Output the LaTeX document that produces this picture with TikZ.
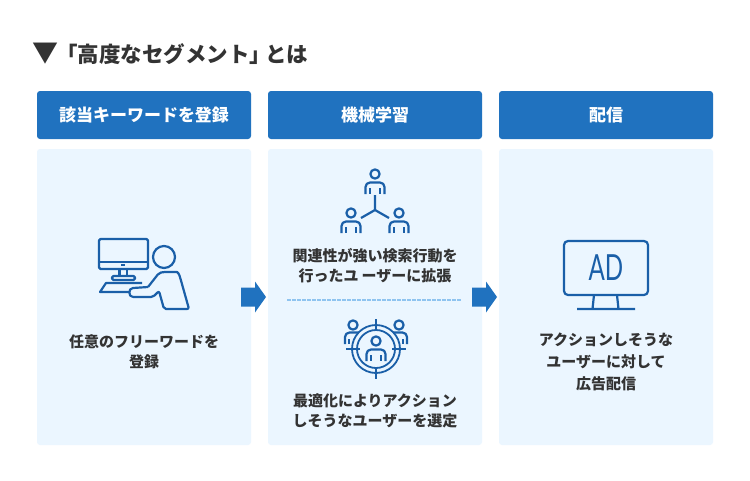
\documentclass[tikz,border=0pt]{standalone}
\usepackage{fontspec}
\setmainfont{Noto Sans CJK JP}
\newfontfamily\adfont{Lato}
\definecolor{headblue}{HTML}{2072BF}
\definecolor{panelblue}{HTML}{EBF6FF}
\definecolor{iconblue}{HTML}{1A5FA8}
\definecolor{dotblue}{HTML}{8FC4F0}
\definecolor{textgray}{HTML}{333333}
\tikzset{
	headbox/.style={fill=headblue,rounded corners=3pt,minimum width=214pt,minimum height=48pt,inner sep=0pt,text=white,font=\fontsize{17}{20}\selectfont\bfseries},
	panelbox/.style={fill=panelblue,rounded corners=3pt,minimum width=214pt,minimum height=296pt,inner sep=0pt},
	bodytext/.style={align=center,inner sep=0pt,text=textgray,font=\fontsize{15}{20}\selectfont\bfseries},
	titletext/.style={anchor=west,inner sep=0pt,text=textgray,font=\fontsize{21.5}{24}\selectfont\bfseries},
	icon/.style={draw=iconblue,line width=2.2pt,line join=round},
	flowarrow/.style={fill=headblue},
}
% head at (0,0), shoulders below it
\newcommand{\personicon}[2]{
	\begin{scope}[shift={(#1,#2)}]
		\draw[icon] (0,0) circle (4.6);
		\draw[icon,rounded corners=4.5pt] (-9.5,20) -- (-9.5,8.5) -- (9.5,8.5) -- (9.5,20);
		\draw[icon] (-5.3,14) -- (-5.3,20) (5.3,14) -- (5.3,20);
	\end{scope}
}
\begin{document}
\begin{tikzpicture}[x=1pt,y=-1pt]
	\useasboundingbox[fill=white] (0,0) rectangle (750,480);
	\node[inner sep=0pt,text=textgray,font=\fontsize{26}{28}\selectfont\bfseries] (mark) at (45,54) {▼};
	\node[titletext] (title) at (56,54) {「高度なセグメント」\hspace{-6pt}とは};
	\node[headbox] (headA) at (144,115) {該当キーワードを登録};
	\node[headbox] (headB) at (375,115) {機械学習};
	\node[headbox] (headC) at (606,115) {配信};
	\node[panelbox] (panelA) at (144,297) {};
	\node[panelbox] (panelB) at (375,297) {};
	\node[panelbox] (panelC) at (606,297) {};
	\node[bodytext] (textA) at (144,351.5) {任意のフリーワードを\\登録};
	\node[bodytext] (textB) at (375,266) {関連性が強い検索行動を\\行ったユ\hspace{3pt}ーザーに拡張};
	\node[bodytext] (textD) at (375,411) {最適化によりアクション\\しそうなユーザーを選定};
	\node[bodytext,font=\fontsize{15}{22}\selectfont\bfseries] (textC) at (606,362) {アクションしそうな\\ユーザーに対して\\広告配信};
	% arrows between panels
	\fill[flowarrow] (241,287.5) -- (255,287.5) -- (255,281.5) -- (266,297) -- (255,312.5) -- (255,306.5) -- (241,306.5) -- cycle;
	\fill[flowarrow] (472,287.5) -- (486,287.5) -- (486,281.5) -- (497,297) -- (486,312.5) -- (486,306.5) -- (472,306.5) -- cycle;
	\coordinate (dotL) at (287,299.7);
	\coordinate (dotR) at (461,299.7);
	\draw[dotblue,line width=2pt,dash pattern=on 3.5pt off 1.5pt] (dotL) -- (dotR);
	% computer and user
	\draw[icon,rounded corners=1.5pt] (99,239) rectangle (148,269);
	\draw[icon] (99,262) -- (148,262);
	\fill[iconblue] (121,264) rectangle (125,266);
	\draw[icon] (119.5,269) -- (119.5,276) (127,269) -- (127,276);
	\draw[icon,rounded corners=1.5pt] (112,276) rectangle (135,280);
	\draw[icon] (129,292) -- (100,292) -- (106,283) -- (142,283);
	\draw[icon] (164,257) circle (11);
	\draw[icon,rounded corners=2pt] (148,287) -- (159,273) -- (163,272) -- (175,272) to[out=0,in=110] (180,277) -- (189,309) -- (164,309) -- (159,291) -- (153,297) -- (133,297);
	\draw[icon] (133,297) to[out=180,in=180,looseness=1.4] (133,288) -- (148,287);
	% network of three
	\personicon{375}{174}
	\personicon{351}{213}
	\personicon{399}{213}
	\draw[icon] (375,195) -- (375,210) (361,218) -- (375,210) -- (389,218);
	% target
	\draw[icon] (353,325) circle (4.6) (399,325) circle (4.6);
	\draw[icon,rounded corners=4.5pt] (345,344) -- (345,332.5) -- (361,332.5);
	\draw[icon,rounded corners=4.5pt] (407,344) -- (407,332.5) -- (391,332.5);
	\draw[icon] (349,339) -- (349,344) (403,339) -- (403,344);
	\fill[panelblue] (376,349) circle (24);
	\draw[icon,line width=1.8pt] (376,349) circle (24) (376,349) circle (19);
	\draw[icon] (376,319) -- (376,331) (376,367) -- (376,379) (346,349) -- (360,349) (392,349) -- (406,349);
	\begin{scope}
		\clip (376,349) circle (19);
		\personicon{376}{341}
	\end{scope}
	% AD monitor
	\draw[icon,rounded corners=4pt] (564,241) rectangle (648,295);
	\draw[icon] (594,295) -- (592.5,309) (617,295) -- (618.5,309) (577,309) -- (635,309);
	\node[inner sep=0pt,text=iconblue,xscale=.67,font=\fontsize{36}{36}\selectfont\adfont] (adlabel) at (606,268) {AD};
\end{tikzpicture}
\end{document}
